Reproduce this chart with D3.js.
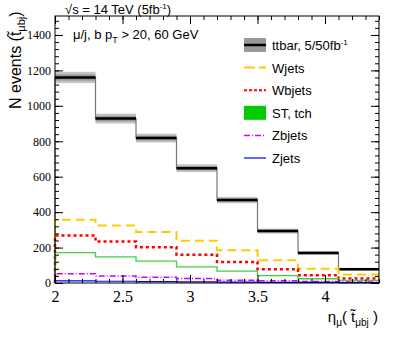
<!DOCTYPE html>
<html>
<head>
<meta charset="utf-8">
<script src="https://cdn.jsdelivr.net/npm/d3@7"></script>
<style>
  body { margin: 0; background: #fff; }
  svg text { fill: #000; }
</style>
</head>
<body>
<div id="canvas"></div>
<script>
// bin edges of eta_mu
const edges = [2.0, 2.3, 2.6, 2.9, 3.2, 3.5, 3.8, 4.1, 4.4];
const ttbar = [1160, 928, 818, 648, 468, 293, 170, 78];
const ttbarErr = [32, 28, 25, 22, 18, 14, 11, 8];
const wjets = [357, 324, 288, 239, 185, 128, 80, 48];
const wbjets = [268, 234, 202, 160, 119, 78, 44, 25];
const sttch = [172, 148, 123, 91, 67, 42, 24, 15];
const zbjets = [52, 40, 33, 25, 16, 12, 8, 6];
const zjets = [12, 10, 8, 6, 5, 4, 3, 2];
const xTicks = [2, 2.5, 3, 3.5, 4];
const yTicks = [0, 200, 400, 600, 800, 1000, 1200, 1400];
const legendNames = ["ttbar, 5/50fb", "Wjets", "Wbjets", "ST, tch", "Zbjets", "Zjets"];

const W = 399, H = 337;
const margin = { top: 16, right: 20, bottom: 54, left: 55 };
const width = W - margin.left - margin.right,
  height = H - margin.top - margin.bottom;
const serif = "Liberation Serif";
const sans = "Liberation Sans";

const svg = d3.select("#canvas").append("svg")
  .attr("width", W).attr("height", H);
const g = svg.append("g")
  .attr("transform", "translate(" + margin.left + "," + margin.top + ")");

const x = d3.scaleLinear().domain([2, 4.4]).range([0, width]);
const y = d3.scaleLinear().domain([0, 1507]).range([height, 0]);

// step path for a histogram, starting on the baseline
function stepPath(vals) {
  let p = d3.path();
  p.moveTo(x(edges[0]), y(0));
  vals.forEach((v, i) => {
    p.lineTo(x(edges[i]), y(v));
    p.lineTo(x(edges[i + 1]), y(v));
  });
  return p.toString();
}

// ttbar error band
g.selectAll(".band").data(ttbar).enter().append("rect")
  .attr("x", (d, i) => x(edges[i]))
  .attr("width", (d, i) => x(edges[i + 1]) - x(edges[i]))
  .attr("y", (d, i) => y(d + ttbarErr[i]))
  .attr("height", (d, i) => y(d - ttbarErr[i]) - y(d + ttbarErr[i]))
  .attr("fill", "#c4c4c4");
g.selectAll(".band2").data(ttbar).enter().append("rect")
  .attr("x", (d, i) => x(edges[i]))
  .attr("width", (d, i) => x(edges[i + 1]) - x(edges[i]))
  .attr("y", (d, i) => y(d + ttbarErr[i] * 0.55))
  .attr("height", (d, i) => y(d - ttbarErr[i] * 0.55) - y(d + ttbarErr[i] * 0.55))
  .attr("fill", "#999");

// ttbar outline (thin gray) and central black bars
g.append("path").attr("d", stepPath(ttbar))
  .attr("fill", "none").attr("stroke", "#777").attr("stroke-width", 1.2);
g.selectAll(".tt").data(ttbar).enter().append("line")
  .attr("x1", (d, i) => x(edges[i])).attr("x2", (d, i) => x(edges[i + 1]))
  .attr("y1", d => y(d)).attr("y2", d => y(d))
  .attr("stroke", "#000").attr("stroke-width", 2.5);

// other samples
const series = [
  { v: wjets, c: "#ffcc00", w: 2, dash: "9,5" },
  { v: wbjets, c: "#ff0000", w: 2.5, dash: "3,3" },
  { v: sttch, c: "#44cc44", w: 1.3, dash: null },
  { v: zbjets, c: "#cc00ff", w: 1.5, dash: "6,2,1,2" },
  { v: zjets, c: "#0000ff", w: 1.2, dash: null }
];
series.forEach(s => {
  g.append("path").attr("d", stepPath(s.v))
    .attr("fill", "none").attr("stroke", s.c).attr("stroke-width", s.w)
    .attr("stroke-dasharray", s.dash);
});

// frame
g.append("rect").attr("width", width).attr("height", height)
  .attr("fill", "none").attr("stroke", "#000").attr("stroke-width", 1);

// axes (ticks on all four sides)
const minorX = d3.range(2, 4.41, 0.1);
const minorY = d3.range(0, 1501, 40);
g.append("g").attr("transform", "translate(0," + height + ")")
  .call(d3.axisBottom(x).tickValues(minorX).tickSize(-4).tickFormat(""))
  .call(a => a.select(".domain").remove());
g.append("g").attr("transform", "translate(0," + height + ")")
  .call(d3.axisBottom(x).tickValues(xTicks).tickSize(-8).tickPadding(8).tickFormat(d3.format("")))
  .attr("font-family", serif).attr("font-size", 16)
  .call(a => a.select(".domain").remove())
  .call(a => a.selectAll("text").style("font-family", serif).style("font-size", "16px"));
g.append("g")
  .call(d3.axisTop(x).tickValues(minorX).tickSize(-4).tickFormat(""))
  .call(a => a.select(".domain").remove());
g.append("g")
  .call(d3.axisTop(x).tickValues(xTicks).tickSize(-8).tickFormat(""))
  .call(a => a.select(".domain").remove());
g.append("g")
  .call(d3.axisLeft(y).tickValues(minorY).tickSize(-4).tickFormat(""))
  .call(a => a.select(".domain").remove());
g.append("g")
  .call(d3.axisLeft(y).tickValues(yTicks).tickSize(-8).tickPadding(4).tickFormat(d3.format("")))
  .attr("font-family", serif).attr("font-size", 12)
  .call(a => a.select(".domain").remove())
  .call(a => a.selectAll("text").style("font-family", serif).style("font-size", "12px"));
g.append("g").attr("transform", "translate(" + width + ",0)")
  .call(d3.axisRight(y).tickValues(minorY).tickSize(-4).tickFormat(""))
  .call(a => a.select(".domain").remove());
g.append("g").attr("transform", "translate(" + width + ",0)")
  .call(d3.axisRight(y).tickValues(yTicks).tickSize(-8).tickFormat(""))
  .call(a => a.select(".domain").remove());

// titles
const t1 = svg.append("text").attr("x", 65).attr("y", 14)
  .attr("font-family", sans).attr("font-size", 13);
t1.append("tspan").text("\u221As = 14 TeV (5fb");
t1.append("tspan").attr("dy", -5).attr("font-size", 8).text("-1");
t1.append("tspan").attr("dy", 5).text(")");

const t2 = svg.append("text").attr("x", 73).attr("y", 39)
  .attr("font-family", sans).attr("font-size", 13);
t2.append("tspan").text("\u03BC/j, b p");
t2.append("tspan").attr("dy", 4).attr("font-size", 9).text("T");
t2.append("tspan").attr("dy", -4).text(" > 20, 60 GeV");

// y title (runs off the top edge, as in the original)
const yt = svg.append("text")
  .attr("transform", "translate(21,109) rotate(-90)")
  .attr("text-anchor", "start")
  .attr("font-family", sans).attr("font-size", 16);
yt.append("tspan").text("N events (t\u0303");
yt.append("tspan").attr("dy", 4).attr("font-size", 11).text("\u03BCbj");
yt.append("tspan").attr("dy", -4).text(")");

// x title
const xt = svg.append("text").attr("x", 378).attr("y", 322)
  .attr("text-anchor", "end")
  .attr("font-family", sans).attr("font-size", 15);
xt.append("tspan").text("\u03B7");
xt.append("tspan").attr("dy", 4).attr("font-size", 10).text("\u03BC");
xt.append("tspan").attr("dy", -4).text("( t\u0303");
xt.append("tspan").attr("dy", 4).attr("font-size", 10).text("\u03BCbj");
xt.append("tspan").attr("dy", -4).text(" )");

// legend
const leg = svg.append("g");
const rowY = i => 45 + i * 22.6;
leg.append("rect").attr("x", 244).attr("y", rowY(0) - 7).attr("width", 22).attr("height", 14).attr("fill", "#999");
leg.append("line").attr("x1", 244).attr("x2", 266).attr("y1", rowY(0)).attr("y2", rowY(0))
  .attr("stroke", "#000").attr("stroke-width", 2.5);
leg.append("rect").attr("x", 244).attr("y", rowY(3) - 7).attr("width", 22).attr("height", 14).attr("fill", "#00cc00");
const legDash = { 1: "11,4", 2: "3,2", 4: "6,2,1,2", 5: null };
[1, 2, 4, 5].forEach(i => {
  const s = series[i - 1];
  leg.append("line").attr("x1", 244).attr("x2", 266).attr("y1", rowY(i)).attr("y2", rowY(i))
    .attr("stroke", s.c).attr("stroke-width", Math.min(s.w, 2))
    .attr("stroke-dasharray", legDash[i]);
});
legendNames.forEach((n, i) => {
  const t = leg.append("text").attr("x", 272).attr("y", rowY(i) + 5)
    .attr("font-family", sans).attr("font-size", 13).text(n);
  if (i === 0) t.append("tspan").attr("dy", -5).attr("font-size", 8).text("-1");
});
</script>
</body>
</html>
